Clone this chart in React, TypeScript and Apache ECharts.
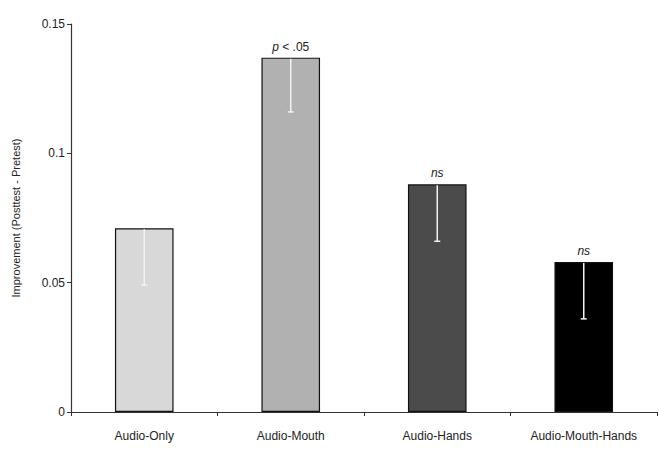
import React, { useEffect, useRef } from "react";
import * as echarts from "echarts";

const categories = ["Audio-Only", "Audio-Mouth", "Audio-Hands", "Audio-Mouth-Hands"];
const improvement = [0.071, 0.137, 0.088, 0.058];
const errorLower = [0.049, 0.116, 0.066, 0.036];
const barColors = ["#d8d8d8", "#b1b1b1", "#4b4b4b", "#000000"];
const sigLabels = ["", "{i|p} < .05", "{i|ns}", "{i|ns}"];
const yTicks = [0, 0.05, 0.1, 0.15];

export default function App() {
  const ref = useRef<HTMLDivElement>(null);
  useEffect(() => {
    if (!ref.current) return;
    const chart = echarts.init(ref.current, null, { renderer: "svg" });
    const font = "Liberation Sans, Arial, sans-serif";
    chart.setOption({
      animation: false,
      textStyle: { fontFamily: font },
      grid: { left: 71, right: 2, top: 24, bottom: 47, containLabel: false },
      xAxis: {
        type: "category",
        data: categories,
        axisLine: { lineStyle: { color: "#333", width: 1.2 } },
        axisTick: { show: true, alignWithLabel: false, length: 4, lineStyle: { color: "#333" } },
        axisLabel: { color: "#222", fontSize: 12, margin: 18, fontFamily: font },
      },
      yAxis: {
        type: "value",
        min: yTicks[0],
        max: yTicks[yTicks.length - 1],
        interval: 0.05,
        name: "Improvement (Posttest - Pretest)",
        nameLocation: "middle",
        nameGap: 50,
        nameTextStyle: { color: "#222", fontSize: 11, fontFamily: font },
        splitLine: { show: false },
        axisLine: { show: true, lineStyle: { color: "#333", width: 1.2 } },
        axisTick: { show: true, length: 4, lineStyle: { color: "#333" } },
        axisLabel: { color: "#222", fontSize: 12, margin: 6, fontFamily: font },
      },
      series: [
        {
          type: "bar",
          barWidth: "40%",
          data: improvement.map((v, i) => ({
            value: v,
            itemStyle: { color: barColors[i], borderColor: "#111", borderWidth: 1.2 },
            label: {
              show: sigLabels[i] !== "",
              position: "top",
              distance: 5,
              formatter: sigLabels[i],
              color: "#222",
              fontSize: 12,
              fontFamily: font,
              rich: { i: { fontStyle: "italic", fontSize: 12, color: "#222", fontFamily: font } },
            },
          })),
        },
        {
          type: "custom",
          z: 10,
          data: categories.map((_, i) => [i, improvement[i], errorLower[i]]),
          renderItem: (params: any, api: any) => {
            const top = api.coord([api.value(0), api.value(1)]);
            const bot = api.coord([api.value(0), api.value(2)]);
            const x = top[0];
            return {
              type: "group",
              children: [
                {
                  type: "line",
                  shape: { x1: x, y1: top[1] + 1, x2: x, y2: bot[1] },
                  style: { stroke: "#f2f2f2", lineWidth: 1.5 },
                },
                {
                  type: "line",
                  shape: { x1: x - 3, y1: bot[1], x2: x + 3, y2: bot[1] },
                  style: { stroke: "#f2f2f2", lineWidth: 1.5 },
                },
              ],
            };
          },
        },
      ],
    });
    return () => chart.dispose();
  }, []);
  return <div ref={ref} style={{ width: 659, height: 459, position: "absolute", left: 0, top: 0 }} />;
}
